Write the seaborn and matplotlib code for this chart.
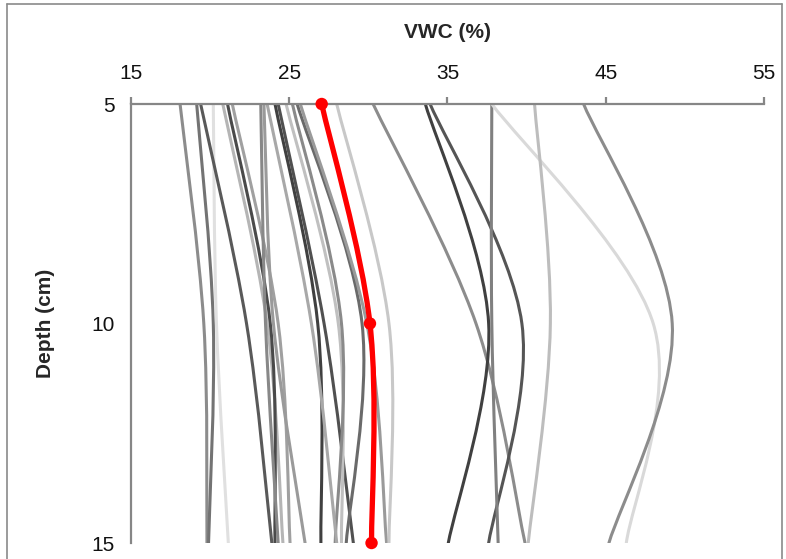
import numpy as np
import matplotlib
matplotlib.use("Agg")
import matplotlib.pyplot as plt
from matplotlib.path import Path
from matplotlib.patches import PathPatch
from matplotlib.lines import Line2D
import seaborn as sns

sns.set_style("white")
plt.rcParams["font.family"] = ["Liberation Sans Narrow", "Liberation Sans", "DejaVu Sans"]

# depth of the three probes (cm)
depth = [5, 10, 15]

# VWC (%) at 5, 10 and 15 cm for each profile
profiles = [
    [18.1, 19.6, 19.8],
    [19.15, 20.2, 19.9],
    [20.2, 20.4, 21.15],
    [19.4, 22.3, 23.9],
    [20.8, 23.6, 24.6],
    [21.1, 23.8, 24.1],
    [21.4, 24.3, 25.05],
    [23.2, 23.5, 24.3],
    [23.4, 24.0, 26.0],
    [24.1, 26.8, 27.0],
    [24.3, 27.2, 29.05],
    [24.8, 28.1, 28.3],
    [25.2, 28.3, 27.9],
    [25.5, 29.6, 28.6],
    [25.7, 29.9, 31.15],
    [28.0, 31.3, 31.3],
    [23.6, 26.4, 28.0],
    [30.3, 36.8, 39.9],
    [33.6, 37.6, 35.05],
    [33.9, 39.7, 37.6],
    [37.8, 37.8, 38.2],
    [37.8, 48.0, 46.3],
    [40.5, 41.5, 40.1],
    [43.6, 49.2, 45.2],
]
greys = ["#8c8c8c", "#737373", "#e0e0e0", "#595959", "#b5b5b5", "#4a4a4a",
         "#a0a0a0", "#888888", "#9a9a9a", "#404040", "#505050", "#c0c0c0",
         "#8a8a8a", "#6a6a6a", "#9a9a9a", "#c8c8c8", "#a8a8a8", "#8c8c8c",
         "#404040", "#555555", "#808080", "#d9d9d9", "#bdbdbd", "#8c8c8c"]

mean_vwc = [27.05, 30.1, 30.2]

x_ticks = [15, 25, 35, 45, 55]
y_ticks = [5, 10, 15]


def smooth_path(xs, ys):
    # Excel style smoothed line: Catmull-Rom segments drawn as cubic Beziers
    p = np.column_stack([xs, ys]).astype(float)
    n = len(p)
    tang = np.zeros_like(p)
    for i in range(n):
        a = p[max(i - 1, 0)]
        b = p[min(i + 1, n - 1)]
        tang[i] = (b - a) / 2
    verts = [p[0]]
    codes = [Path.MOVETO]
    for i in range(n - 1):
        verts += [p[i] + tang[i] / 3, p[i + 1] - tang[i + 1] / 3, p[i + 1]]
        codes += [Path.CURVE4] * 3
    return Path(verts, codes)


fig = plt.figure(figsize=(7.86, 5.59), dpi=100)
ax = fig.add_axes([131 / 786, 1 - 543 / 559, (764 - 131) / 786, (543 - 104) / 559])

for vals, c in zip(profiles, greys):
    ax.add_patch(PathPatch(smooth_path(vals, depth), fill=False, edgecolor=c,
                           lw=2.2, capstyle="round", zorder=2))

ax.add_patch(PathPatch(smooth_path(mean_vwc, depth), fill=False, edgecolor="#ff0000",
                       lw=3.8, capstyle="round", zorder=4))
sns.scatterplot(x=mean_vwc, y=depth, color="#ff0000", s=80, edgecolor="none",
                zorder=5, ax=ax, clip_on=False)

ax.set_xlim(15, 55)
ax.set_ylim(15, 5)
ax.set_xticks(x_ticks)
ax.set_yticks(y_ticks)
ax.xaxis.tick_top()
ax.xaxis.set_label_position("top")
ax.set_xlabel("VWC (%)", fontsize=15, fontweight="bold", labelpad=19)
ax.set_ylabel("Depth (cm)", fontsize=15, fontweight="bold", labelpad=26)

for side in ["right", "bottom"]:
    ax.spines[side].set_visible(False)
for side in ["top", "left"]:
    ax.spines[side].set_color("#868686")
    ax.spines[side].set_linewidth(1.6)
ax.tick_params(axis="both", direction="out", length=5, width=1.6, color="#868686",
               labelsize=15, labelcolor="#111111", pad=7)
ax.tick_params(axis="x", pad=10)
ax.grid(False)

# chart-area border
bc = "#8a8a8a"
fig.add_artist(Line2D([7 / 786, 7 / 786], [0, 1 - 4 / 559], color=bc, lw=1.2))
fig.add_artist(Line2D([7 / 786, 782 / 786], [1 - 4 / 559, 1 - 4 / 559], color=bc, lw=1.2))
fig.add_artist(Line2D([782 / 786, 782 / 786], [0, 1 - 4 / 559], color=bc, lw=1.2))

fig.savefig("out.png", dpi=100)
